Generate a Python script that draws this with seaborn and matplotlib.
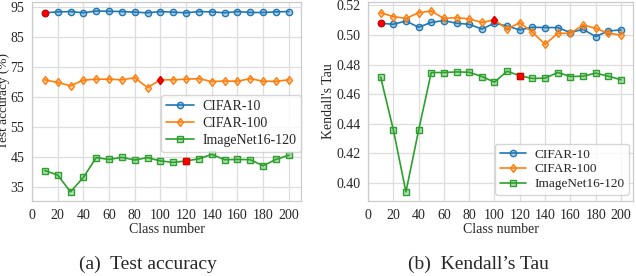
import numpy as np
import pandas as pd
import seaborn as sns
import matplotlib.pyplot as plt
from matplotlib.colors import to_rgba

class_numbers = list(range(10, 201, 10))
datasets = ["CIFAR-10", "CIFAR-100", "ImageNet16-120"]

# (a) test accuracy (%)
acc_cifar10 = [93.0, 93.3, 93.4, 93.0, 93.6, 93.5, 93.4, 93.2, 93.0, 93.4,
               93.2, 93.0, 93.4, 93.3, 93.0, 93.4, 93.1, 93.1, 93.3, 93.4]
acc_cifar100 = [70.7, 69.8, 68.7, 70.6, 70.9, 70.9, 70.7, 71.4, 68.1, 70.7,
                70.7, 70.9, 71.1, 70.1, 70.3, 70.2, 71.1, 70.2, 70.2, 70.7]
acc_imagenet = [40.5, 39.0, 33.4, 38.2, 44.8, 44.2, 44.9, 44.0, 44.8, 43.7,
                43.2, 43.7, 44.4, 45.9, 44.1, 44.2, 44.1, 42.1, 44.2, 45.6]

# (b) Kendall's tau
tau_cifar10 = [0.5079, 0.5072, 0.5094, 0.5052, 0.5085, 0.5097, 0.5079, 0.5072, 0.5040, 0.5079,
               0.5060, 0.5034, 0.5052, 0.5050, 0.5050, 0.5016, 0.5038, 0.4989, 0.5027, 0.5034]
tau_cifar100 = [0.5150, 0.5124, 0.5112, 0.5150, 0.5162, 0.5112, 0.5117, 0.5108, 0.5085, 0.5101,
                0.5040, 0.5083, 0.5018, 0.4937, 0.5011, 0.5011, 0.5067, 0.5045, 0.5011, 0.5000]
tau_imagenet = [0.4715, 0.4360, 0.3939, 0.4355, 0.4746, 0.4746, 0.4750, 0.4748, 0.4719, 0.4681,
                0.4755, 0.4724, 0.4706, 0.4708, 0.4746, 0.4719, 0.4721, 0.4742, 0.4721, 0.4697]

# class number of the highlighted (red) point for each dataset
highlight = [10, 100, 120]

sns.set_style("whitegrid")
plt.rcParams["font.family"] = ["Liberation Serif", "DejaVu Serif"]

colors = sns.color_palette("tab10", 3)
markers = ["o", "d", "s"]

fig = plt.figure(figsize=(6.36, 2.76), dpi=100)
ax1 = fig.add_axes([0.0503, 0.272, 0.423, 0.721])
ax2 = fig.add_axes([0.5786, 0.272, 0.4167, 0.721])


def draw(ax, series):
    for name, vals, col, mk, hl in zip(datasets, series, colors, markers, highlight):
        df = pd.DataFrame({"x": class_numbers, "y": vals})
        sns.lineplot(data=df, x="x", y="y", ax=ax, color=col, marker=mk,
                     markersize=4.5, linewidth=1.2, markeredgewidth=1.0,
                     markerfacecolor=to_rgba(col, 0.35), markeredgecolor=col,
                     label=name)
        hp = df[df["x"] == hl]
        ax.plot(hp["x"], hp["y"], marker=mk, color="red", markersize=4.5,
                markeredgewidth=1.0, markeredgecolor=(0.85, 0, 0), linestyle="none")
    ax.set_xticks(range(0, 201, 20))
    ax.set_xlabel("Class number", fontsize=10, labelpad=1)
    ax.tick_params(axis="both", labelsize=10, pad=2)
    for s in ax.spines.values():
        s.set_color("#cccccc")
        s.set_linewidth(0.9)
    ax.grid(color="#dddddd", linewidth=0.9)


draw(ax1, [acc_cifar10, acc_cifar100, acc_imagenet])
ax1.set_yticks([35, 45, 55, 65, 75, 85, 95])
ax1.set_ylabel("Test accuracy (%)", fontsize=9.5, labelpad=0)
ax1.legend(loc="lower right", bbox_to_anchor=(1.0, 0.245), fontsize=10,
           frameon=True, handlelength=2.0, borderpad=0.35, labelspacing=0.3,
           handletextpad=0.6, borderaxespad=0.0)

draw(ax2, [tau_cifar10, tau_cifar100, tau_imagenet])
ax2.set_yticks([0.40, 0.42, 0.44, 0.46, 0.48, 0.50, 0.52])
ax2.yaxis.set_major_formatter(plt.FormatStrFormatter("%.2f"))
ax2.set_ylabel("Kendall's Tau", fontsize=10, labelpad=1)
ax2.legend(loc="lower right", bbox_to_anchor=(0.985, 0.03), fontsize=9.5,
           frameon=True, handlelength=2.0, borderpad=0.35, labelspacing=0.2,
           handletextpad=0.6, borderaxespad=0.0)

fig.text(0.233, 0.025, "(a)  Test accuracy", ha="center", fontsize=14)
fig.text(0.753, 0.025, "(b)  Kendall\u2019s Tau", ha="center", fontsize=14)

fig.savefig("out.png", dpi=100)
